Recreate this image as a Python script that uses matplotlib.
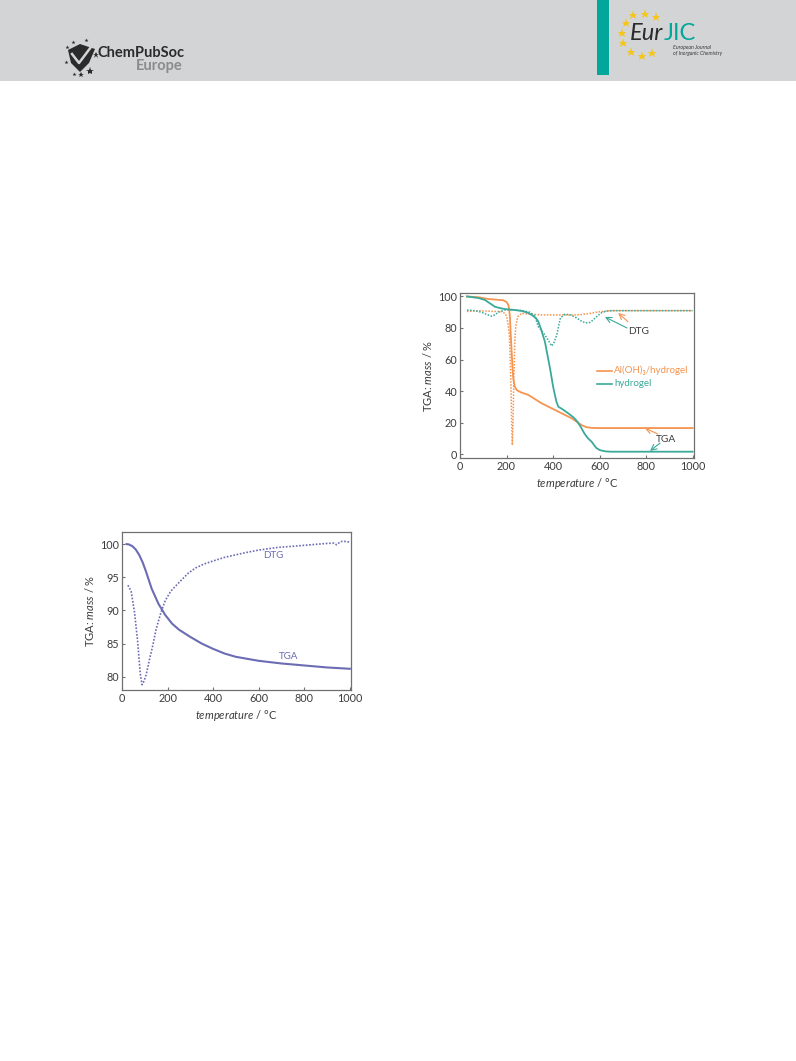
import matplotlib

matplotlib.use("Agg")
import matplotlib.pyplot as plt
from matplotlib.patches import Rectangle, Polygon

plt.rcParams['font.family'] = ['Lato', 'DejaVu Sans']
plt.rcParams['mathtext.fontset'] = 'custom'
plt.rcParams['mathtext.rm'] = 'Lato'
plt.rcParams['mathtext.it'] = 'Lato:italic'

# ---- data: left chart (single sample) ----
left_tga_t = [20, 30, 45, 60, 75, 90, 105, 130, 160, 190, 220, 250, 300, 350, 400,
              450, 500, 600, 700, 800, 900, 1000]
left_tga_y = [100.0, 99.95, 99.7, 99.2, 98.4, 97.3, 95.9, 93.3, 91.0, 89.3, 88.0,
              87.1, 86.0, 85.0, 84.2, 83.5, 83.0, 82.4, 82.0, 81.7, 81.4, 81.2]
left_dtg_t = [26, 40, 55, 69, 80, 88, 96, 106, 120, 135, 150, 171, 190, 214, 250,
              290, 323, 360, 395, 450, 540, 600, 684, 760, 829, 900, 930, 942,
              960, 980, 1000]
left_dtg_y = [93.8, 92.9, 89.7, 85.2, 80.5, 78.8, 79.3, 80.3, 82.5, 84.7, 87.2,
              89.7, 91.5, 92.9, 94.2, 95.6, 96.4, 97.0, 97.4, 98.0, 98.7, 99.1,
              99.5, 99.7, 99.9, 100.1, 100.15, 99.9, 100.4, 100.4, 100.3]

# ---- data: right chart ----
al_tga_t = [30, 80, 122, 186, 200, 208, 212, 215, 218, 222, 226, 229, 235, 244,
            260, 294, 351, 408, 480, 523, 545, 566, 600, 1000]
al_tga_y = [100.0, 99.5, 98.4, 97.6, 96.5, 94.6, 91.0, 86.0, 76.0, 65.0, 54.0,
            48.0, 43.0, 40.6, 39.3, 37.5, 32.2, 28.0, 22.7, 18.3, 17.0, 16.6,
            16.5, 16.5]
hg_tga_t = [30, 80, 107, 130, 150, 175, 193, 230, 265, 290, 308, 325, 337, 350,
            365, 387, 400, 408, 415, 423, 440, 466, 490, 505, 520, 535, 550, 566,
            585, 601, 625, 650, 1000]
hg_tga_y = [100.0, 99.0, 97.8, 95.5, 93.5, 92.5, 92.0, 91.5, 90.8, 89.8, 88.3,
            86.5, 84.0, 78.5, 71.3, 54.4, 43.0, 37.5, 33.0, 30.0, 28.5, 25.8,
            23.0, 20.5, 17.0, 13.0, 10.0, 7.8, 4.0, 2.5, 1.7, 1.5, 1.5]
al_dtg_t = [30, 80, 130, 180, 195, 201, 207, 212, 216, 219, 222, 225, 228, 231,
            234, 236, 240, 248, 265, 300, 350, 400, 451, 480, 520, 560, 600, 645,
            1000]
al_dtg_y = [90.5, 91.0, 90.6, 90.4, 89.0, 87.2, 82.0, 75.6, 60.0, 43.8, 20.0,
            5.7, 20.0, 43.8, 62.0, 73.5, 81.0, 87.2, 89.3, 88.8, 88.3, 88.3,
            88.3, 88.2, 88.5, 89.3, 90.3, 91.0, 91.0]
hg_dtg_t = [30, 60, 93, 115, 136, 150, 165, 193, 230, 270, 300, 320, 337, 350,
            365, 380, 394, 405, 416, 425, 432, 451, 475, 500, 520, 540, 560, 575,
            590, 610, 630, 660, 1000]
hg_dtg_y = [91.4, 91.0, 90.0, 88.6, 87.5, 88.3, 90.0, 91.4, 91.5, 91.0, 90.0,
            88.0, 80.8, 78.5, 75.6, 72.0, 68.6, 71.0, 75.6, 82.0, 86.5, 88.7,
            88.3, 86.5, 84.5, 83.2, 83.6, 85.5, 87.5, 89.8, 90.7, 91.0, 91.0]

left_yticks = [80, 85, 90, 95, 100]
right_yticks = [0, 20, 40, 60, 80, 100]
xticks = [0, 200, 400, 600, 800, 1000]

W, H = 796, 1061
blue = '#6c6cb4'
orange = '#f5944f'
teal = '#3aa99a'
tick_col = '#3c3c3c'

fig = plt.figure(figsize=(W / 100, H / 100), dpi=100)

# page header drawn in pixel coordinates
hax = fig.add_axes([0, 0, 1, 1])
hax.set_xlim(0, W)
hax.set_ylim(H, 0)
hax.axis('off')
hax.add_patch(Rectangle((0, 0), W, 81, color='#d3d4d6', lw=0))
hax.add_patch(Rectangle((597, 0), 12, 75, color='#00a79a', lw=0))
# ChemPubSoc logo
hax.add_patch(Polygon([(68, 50), (80, 44), (95, 49), (89, 63), (80, 72), (71, 63)],
                      closed=True, color='#2b2b2b', lw=0))
hax.plot([72, 79, 91], [54, 63, 47], color='#d3d4d6', lw=1.8)
for sx, sy, ss in [(96, 55, 5), (90, 71, 6), (81, 75, 4), (74, 74, 3), (66, 62, 3),
                   (67, 47, 3), (73, 42, 3), (86, 40, 3)]:
    hax.plot(sx, sy, marker='*', color='#2b2b2b', ms=ss, mew=0)
hax.text(98, 53, 'ChemPubSoc', fontsize=10.5, fontweight='bold', color='#2b2b2b',
         va='center', ha='left')
hax.text(183, 66, 'Europe', fontsize=10.5, fontweight='bold', color='#8b8b8b',
         va='center', ha='right')
# EurJIC logo
for sx, sy in [(633, 15), (645, 14), (656, 17), (626, 23), (622, 33), (623, 43),
               (631, 52), (642, 56), (652, 53)]:
    hax.plot(sx, sy, marker='*', color='#f5c518', ms=6.5, mew=0)
hax.text(630, 33, 'Eur', fontsize=17, style='italic', color='#2b2b2b',
         va='center', ha='left')
hax.text(664, 33, 'JIC', fontsize=17, color='#00a79a', va='center', ha='left')
hax.text(673, 47.5, 'European Journal', fontsize=3.8, style='italic',
         color='#3a3a3a', va='center', ha='left')
hax.text(673, 53.5, 'of Inorganic Chemistry', fontsize=3.8, style='italic',
         color='#3a3a3a', va='center', ha='left')


def style_axes(ax, yticks):
    for s in ax.spines.values():
        s.set_color('#707070')
        s.set_linewidth(0.9)
    ax.set_xticks(xticks)
    ax.set_yticks(yticks)
    ax.tick_params(direction='in', length=2.5, width=0.8, color='#707070',
                   labelsize=7.8, labelcolor=tick_col, pad=2)
    ax.set_xlabel(r'$\it{temperature}$ / °C', fontsize=8, color=tick_col, labelpad=3)
    ax.set_ylabel(r'TGA: $\it{mass}$ / %', fontsize=8, color=tick_col, labelpad=3)


# left chart
ax1 = fig.add_axes([122 / W, 1 - 690 / H, 228.5 / W, 158.5 / H])
ax1.plot(left_tga_t, left_tga_y, color=blue, lw=1.5)
ax1.plot(left_dtg_t, left_dtg_y, color=blue, lw=1.2, ls=(0, (1, 1)))
ax1.set_xlim(0, 1003)
ax1.set_ylim(78.0, 101.9)
style_axes(ax1, left_yticks)
ax1.text(663, 98.3, 'DTG', fontsize=7, color=blue, ha='center', va='center')
ax1.text(732, 83.1, 'TGA', fontsize=7, color=blue, ha='center', va='center')

# right chart
ax2 = fig.add_axes([460 / W, 1 - 458 / H, 234 / W, 165 / H])
ax2.plot(al_dtg_t, al_dtg_y, color=orange, lw=1.1, ls=(0, (1, 1)))
ax2.plot(hg_dtg_t, hg_dtg_y, color=teal, lw=1.1, ls=(0, (1, 1)))
ax2.plot(al_tga_t, al_tga_y, color=orange, lw=1.3)
ax2.plot(hg_tga_t, hg_tga_y, color=teal, lw=1.3)
ax2.set_xlim(0, 1006)
ax2.set_ylim(-2.5, 102.2)
style_axes(ax2, right_yticks)

ax2.plot([590, 655], [53, 53], color=orange, lw=1.2)
ax2.plot([590, 655], [44.5, 44.5], color=teal, lw=1.2)
ax2.text(662, 53, 'Al(OH)₃/hydrogel', fontsize=7, color=orange, va='center',
         family=['Lato', 'DejaVu Sans'])
ax2.text(662, 44.5, 'hydrogel', fontsize=7, color=teal, va='center')

ax2.text(770, 78, 'DTG', fontsize=7.3, color=tick_col, ha='center', va='center')
ax2.text(885, 9.5, 'TGA', fontsize=7.3, color=tick_col, ha='center', va='center')
arr = dict(arrowstyle='->', lw=0.8, shrinkA=0, shrinkB=0)
ax2.annotate('', xy=(680, 89.5), xytext=(722, 84), arrowprops=dict(arr, color=orange))
ax2.annotate('', xy=(623, 87), xytext=(718, 80), arrowprops=dict(arr, color=teal))
ax2.annotate('', xy=(795, 16.5), xytext=(851, 12.7), arrowprops=dict(arr, color=orange))
ax2.annotate('', xy=(817, 2), xytext=(860, 7), arrowprops=dict(arr, color=teal))

fig.savefig('out.png', dpi=100)
